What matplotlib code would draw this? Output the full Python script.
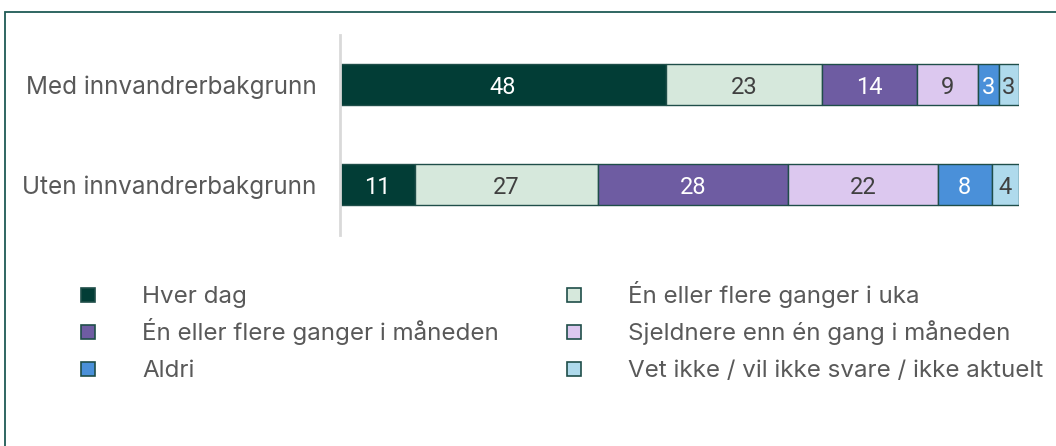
import matplotlib
matplotlib.use("Agg")
import matplotlib.pyplot as plt
from matplotlib.patches import Rectangle
import numpy as np

categories = ["Med innvandrerbakgrunn", "Uten innvandrerbakgrunn"]
series_names = [
    "Hver dag",
    "Én eller flere ganger i uka",
    "Én eller flere ganger i måneden",
    "Sjeldnere enn én gang i måneden",
    "Aldri",
    "Vet ikke / vil ikke svare / ikke aktuelt",
]
values = {
    "Hver dag": [48, 11],
    "Én eller flere ganger i uka": [23, 27],
    "Én eller flere ganger i måneden": [14, 28],
    "Sjeldnere enn én gang i måneden": [9, 22],
    "Aldri": [3, 8],
    "Vet ikke / vil ikke svare / ikke aktuelt": [3, 4],
}
colors = ["#023d36", "#d6e8dc", "#6e5ca2", "#dcc8ef", "#4a90d9", "#afdaec"]
label_colors = ["white", "#404040", "white", "#404040", "white", "#404040"]
edge = "#1f4e49"

W, H = 1056, 446
fig = plt.figure(figsize=(W / 100, H / 100), dpi=100)
ax = fig.add_axes([340 / W, 1 - 235 / H, 679 / W, 200 / H])

y = np.arange(len(categories))
left = np.zeros(len(categories))
for name, c, lc in zip(series_names, colors, label_colors):
    v = np.array(values[name], dtype=float)
    bars = ax.barh(y, v, left=left, height=0.41, color=c, edgecolor=edge,
                   linewidth=1.0, label=name)
    for b, val in zip(bars, v):
        ax.text(b.get_x() + b.get_width() / 2, b.get_y() + b.get_height() / 2,
                f"{int(val)}", ha="center", va="center_baseline", color=lc,
                fontsize=17, family="Roboto")
    left += v

ax.set_xlim(0, 100)
ax.set_ylim(1.5, -0.5)
for s in ["top", "right", "bottom"]:
    ax.spines[s].set_visible(False)
ax.spines["left"].set_color("#d9d9d9")
ax.spines["left"].set_linewidth(2)
ax.set_xticks([])
ax.set_yticks(y)
ax.set_yticklabels(categories, fontsize=17.5, family="Inter", color="#595959",
                   va="center_baseline")
ax.tick_params(axis="y", length=0, pad=17)

# legend (row-wise, 2 columns)
col_x = [81, 567]
text_dx = 61
row_y = [295, 332, 369]
for i, (name, c) in enumerate(zip(series_names, colors)):
    r, col = divmod(i, 2)
    mx = col_x[col]
    my = row_y[r]
    fig.add_artist(Rectangle((mx / W, 1 - (my + 7) / H), 14 / W, 14 / H,
                             transform=fig.transFigure, facecolor=c,
                             edgecolor=edge, linewidth=1.2))
    fig.text((mx + text_dx) / W, 1 - (my + 8) / H, name, ha="left",
             va="baseline", fontsize=17.4, family="Inter", color="#595959")

# frame
fig.add_artist(Rectangle((4.5 / W, -0.1), 1.2, 1.1 - 12.5 / H,
                         transform=fig.transFigure, fill=False,
                         edgecolor="#1f5a55", linewidth=1.3))

fig.savefig("out.png", dpi=100)
